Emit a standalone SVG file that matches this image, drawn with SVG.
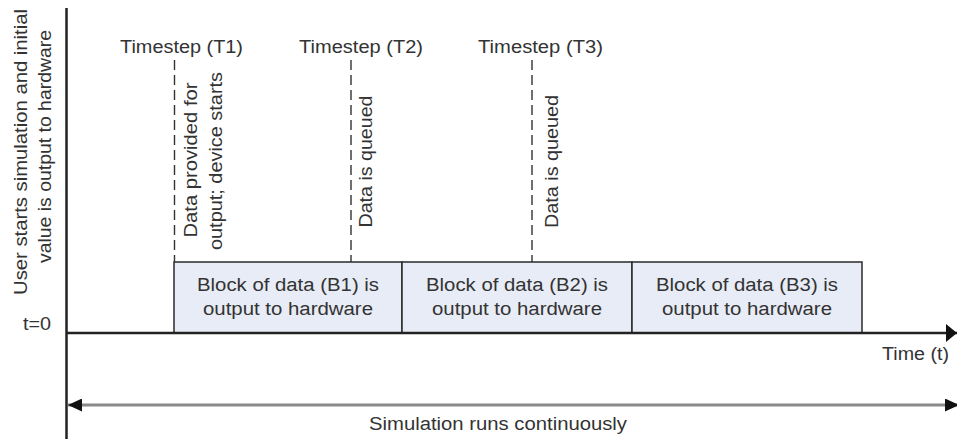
<svg xmlns="http://www.w3.org/2000/svg" width="957" height="439" viewBox="0 0 957 439">
  <style>
    text { font-family: "Liberation Sans", Arial, sans-serif; font-size: 18px; fill: #333; }
    .mid { text-anchor: middle; }
    .blk { fill: #e8ecf6; stroke: #2a2a2a; stroke-width: 1.5; }
    .axis { stroke: #222; stroke-width: 2.5; fill: none; }
    .dash { stroke: #333; stroke-width: 1.4; stroke-dasharray: 10 5; fill: none; }
    .span { stroke: #8a8a8a; stroke-width: 3; fill: none; }
  </style>
  <defs>
    <marker id="axhead" markerUnits="userSpaceOnUse" viewBox="0 0 11 18" refX="11" refY="9" markerWidth="11" markerHeight="18" orient="auto">
      <path d="M0,0 L11,9 L0,18 z" fill="#111"/>
    </marker>
    <marker id="spanhead" markerUnits="userSpaceOnUse" viewBox="0 0 14 13" refX="14" refY="6.5" markerWidth="14" markerHeight="13" orient="auto-start-reverse">
      <path d="M0,0 L14,6.5 L0,13 z" fill="#111"/>
    </marker>
  </defs>

  <g id="blocks">
    <g id="block-b1">
      <rect class="blk" x="174" y="262" width="228" height="71"/>
      <text class="mid" x="288" y="291" textLength="182" lengthAdjust="spacingAndGlyphs">Block of data (B1) is</text>
      <text class="mid" x="288" y="315" textLength="170" lengthAdjust="spacingAndGlyphs">output to hardware</text>
    </g>
    <g id="block-b2">
      <rect class="blk" x="402" y="262" width="230" height="71"/>
      <text class="mid" x="517" y="291" textLength="182" lengthAdjust="spacingAndGlyphs">Block of data (B2) is</text>
      <text class="mid" x="517" y="315" textLength="170" lengthAdjust="spacingAndGlyphs">output to hardware</text>
    </g>
    <g id="block-b3">
      <rect class="blk" x="632" y="262" width="230" height="71"/>
      <text class="mid" x="747" y="291" textLength="182" lengthAdjust="spacingAndGlyphs">Block of data (B3) is</text>
      <text class="mid" x="747" y="315" textLength="170" lengthAdjust="spacingAndGlyphs">output to hardware</text>
    </g>
  </g>

  <g id="connectors">
    <line class="axis" x1="66.5" y1="8" x2="66.5" y2="439"/>
    <line class="axis" x1="66" y1="333" x2="957" y2="333" stroke-width="2" marker-end="url(#axhead)"/>
    <line class="dash" x1="174.5" y1="60" x2="174.5" y2="262"/>
    <line class="dash" x1="351" y1="60" x2="351" y2="262"/>
    <line class="dash" x1="532" y1="60" x2="532" y2="262"/>
    <line class="span" x1="68" y1="405" x2="959" y2="405" marker-start="url(#spanhead)" marker-end="url(#spanhead)"/>
  </g>

  <g id="timestep-t1">
    <text class="mid" x="181.5" y="53" textLength="123" lengthAdjust="spacingAndGlyphs">Timestep (T1)</text>
    <g transform="translate(197,160) rotate(-90)">
      <text class="mid" x="0" y="0" textLength="155" lengthAdjust="spacingAndGlyphs">Data provided for</text>
    </g>
    <g transform="translate(222,161) rotate(-90)">
      <text class="mid" x="0" y="0" textLength="178" lengthAdjust="spacingAndGlyphs">output; device starts</text>
    </g>
  </g>

  <g id="timestep-t2">
    <text class="mid" x="361" y="53" textLength="124" lengthAdjust="spacingAndGlyphs">Timestep (T2)</text>
    <g transform="translate(372,161.5) rotate(-90)">
      <text class="mid" x="0" y="0" textLength="132" lengthAdjust="spacingAndGlyphs">Data is queued</text>
    </g>
  </g>

  <g id="timestep-t3">
    <text class="mid" x="540.5" y="53" textLength="125" lengthAdjust="spacingAndGlyphs">Timestep (T3)</text>
    <g transform="translate(558,161.5) rotate(-90)">
      <text class="mid" x="0" y="0" textLength="133" lengthAdjust="spacingAndGlyphs">Data is queued</text>
    </g>
  </g>

  <g id="start-label">
    <g transform="translate(26.5,152) rotate(-90)">
      <text class="mid" x="0" y="0" textLength="286" lengthAdjust="spacingAndGlyphs">User starts simulation and initial</text>
    </g>
    <g transform="translate(50.5,146.5) rotate(-90)">
      <text class="mid" x="0" y="0" textLength="233" lengthAdjust="spacingAndGlyphs">value is output to hardware</text>
    </g>
  </g>

  <g id="t0-label">
    <text x="51" y="330" text-anchor="end" textLength="28" lengthAdjust="spacingAndGlyphs">t=0</text>
  </g>

  <g id="time-label">
    <text x="882" y="360" textLength="67" lengthAdjust="spacingAndGlyphs">Time (t)</text>
  </g>

  <g id="span-label">
    <text class="mid" x="498" y="430" textLength="258" lengthAdjust="spacingAndGlyphs">Simulation runs continuously</text>
  </g>
</svg>
